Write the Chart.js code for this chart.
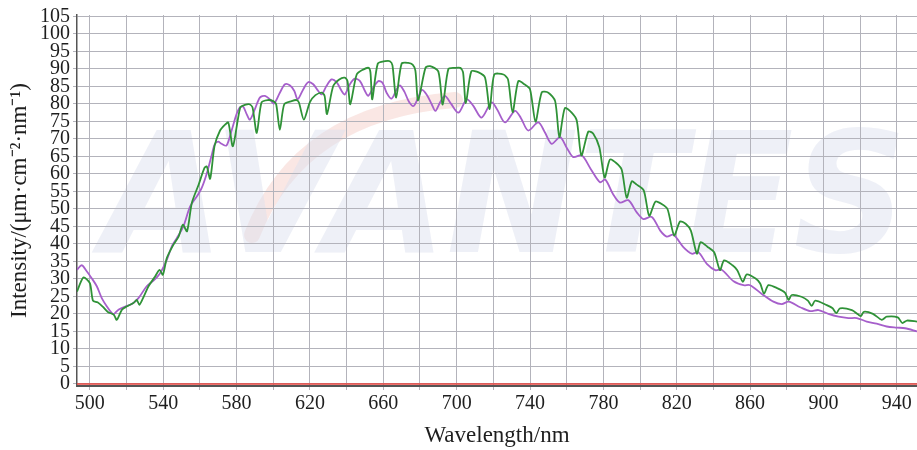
<!DOCTYPE html>
<html>
<head>
<meta charset="utf-8">
<script src="https://cdn.jsdelivr.net/npm/chart.js@4"></script>
<style>
  html, body { margin: 0; padding: 0; background: #fff; }
</style>
</head>
<body>
<canvas id="myChart" width="917" height="450"></canvas>
<script>
// wavelength (nm) / intensity
const greenNm = [493, 496.5, 500, 501.7, 504.2, 507, 510, 513, 514.7, 517.5, 520, 523.8, 525.6, 527, 529, 532, 535.6, 538, 539.8, 542, 545.6, 548.4, 550.7, 553, 555.6, 559.3, 562.5, 563.8, 565.6, 568, 571, 573.6, 575.5, 578, 582, 584.5, 587, 588.7, 591, 593.6, 597, 600, 601.6, 603.6, 606, 610, 612.7, 614, 616.7, 620, 623, 626.5, 628, 629.3, 632.7, 636, 639, 640.5, 642, 645.5, 649, 652, 653, 654, 657, 661, 663.6, 665, 667, 670, 673.6, 676, 677.5, 679, 683, 685.5, 690, 692.4, 695.5, 699, 702, 703.5, 705, 708, 712, 715.5, 718, 720.5, 725.5, 728, 730.5, 733.6, 737, 740, 743, 746.4, 750, 753.7, 756, 759, 762.7, 765.5, 768, 771.8, 774.5, 777.8, 780.7, 783.6, 787, 790, 792.7, 795.5, 798, 802, 805, 808.4, 812, 815, 818.6, 821.8, 825, 827.7, 831, 833, 836.7, 840.4, 843.6, 845.8, 850.4, 853, 856, 858.2, 863, 865.5, 867.6, 870, 875, 879, 881, 882.7, 888, 891.5, 893.6, 895.5, 901.8, 905, 907, 909, 915.5, 919, 920.5, 922, 927, 931.8, 934.5, 940.5, 943, 945.5, 951];
const greenVal = [26.4, 30.4, 28.8, 23.8, 23.3, 22.1, 20.5, 19.8, 18.3, 21.2, 22.1, 23.1, 24.0, 22.6, 24.5, 27.9, 30.7, 32.6, 31.2, 36.0, 39.8, 42.1, 45.5, 43.6, 51.7, 56.9, 61.7, 62.1, 58.6, 68.0, 72.4, 74.0, 74.7, 67.9, 79.0, 79.7, 79.9, 79.0, 71.7, 80.4, 81.1, 80.8, 79.9, 72.6, 79.9, 80.8, 81.1, 80.4, 75.5, 80.5, 82.5, 83.2, 82.3, 77.1, 85.1, 87.0, 87.5, 86.5, 79.9, 88.4, 89.8, 90.3, 89.0, 81.3, 91.5, 92.2, 92.2, 91.0, 81.8, 91.5, 91.7, 91.2, 89.5, 81.0, 90.3, 90.8, 89.3, 79.8, 90.0, 90.3, 90.3, 89.0, 80.2, 89.3, 89.0, 87.5, 78.5, 88.4, 88.4, 87.0, 77.6, 86.5, 85.6, 84.2, 74.9, 83.3, 83.2, 80.8, 70.5, 78.8, 77.5, 75.2, 65.3, 72.1, 71.5, 67.6, 59.0, 64.1, 63.1, 61.2, 53.2, 57.9, 57.0, 55.3, 48.0, 52.1, 51.3, 49.9, 42.4, 46.4, 45.7, 43.8, 37.2, 40.5, 39.2, 37.6, 32.5, 35.3, 33.9, 32.5, 29.2, 31.3, 30.1, 28.7, 25.8, 28.2, 27.3, 26.1, 24.0, 25.4, 24.9, 23.8, 22.3, 23.8, 22.5, 21.6, 20.2, 21.6, 21.1, 19.8, 19.4, 20.6, 20.0, 18.3, 19.2, 19.0, 17.4, 18.1, 17.8];

const purpleNm = [493, 495.6, 498.4, 501, 503.8, 506.5, 509.3, 512, 513, 515.6, 519.3, 522.9, 526.5, 531, 534.7, 538.4, 542, 544.7, 547.5, 551, 554.7, 558.4, 561, 563.8, 566.5, 568.2, 570, 571.8, 574.5, 577.3, 580, 581.8, 583.6, 585.5, 587.3, 590, 592.7, 595.5, 598.2, 600.4, 603.6, 606.4, 609, 611.5, 613.3, 616.4, 619, 621.8, 624.5, 626.4, 629, 631.8, 634.5, 637.3, 639, 641.8, 644.5, 647.3, 650, 651.8, 654.5, 657.3, 659.6, 661.8, 664.5, 667.3, 669, 671.5, 674, 676.5, 679, 681, 683.6, 686.4, 688.4, 691, 693.6, 697, 701, 705.5, 709, 713.6, 719, 722, 726.4, 731.8, 735, 739, 744.5, 748, 751.8, 756.4, 760, 763.6, 768.2, 773, 778.2, 781, 785.3, 789, 793.6, 798.2, 801.8, 806.4, 811, 814.5, 818.2, 823.6, 828.2, 831.8, 836.4, 841, 844.5, 851, 856.4, 860, 866.4, 872.7, 877.3, 881, 887.3, 892.7, 897.3, 902.7, 908.2, 913.6, 918.2, 923.6, 929, 934.5, 940, 944.5, 951];
const purpleVal = [32.6, 33.9, 32.1, 30.2, 27.9, 24.5, 22.1, 20.2, 19.9, 21.2, 22.1, 22.8, 24.5, 27.9, 29.5, 31.7, 35.5, 39.3, 41.7, 45.0, 50.7, 53.6, 56.0, 60.2, 65.5, 68.6, 69.2, 68.6, 68.1, 72.4, 77.1, 79.0, 79.2, 77.1, 75.5, 78.5, 81.8, 82.3, 81.3, 80.1, 83.2, 85.6, 85.3, 83.7, 81.3, 84.2, 86.2, 85.6, 83.7, 82.7, 85.1, 87.0, 86.2, 83.7, 82.7, 85.6, 87.2, 86.5, 83.7, 82.3, 84.6, 86.5, 86.0, 83.2, 81.5, 84.2, 85.3, 83.5, 80.6, 79.4, 81.8, 84.0, 82.7, 79.9, 78.0, 80.5, 82.3, 80.0, 77.5, 81.3, 79.5, 76.1, 80.4, 78.5, 74.7, 78.0, 76.0, 72.4, 74.7, 72.0, 68.6, 70.5, 67.5, 64.8, 65.3, 61.5, 57.6, 58.4, 54.2, 51.8, 52.5, 49.0, 47.1, 47.7, 43.8, 42.1, 42.6, 39.1, 37.2, 37.6, 34.3, 32.5, 32.6, 29.3, 28.2, 28.2, 25.7, 23.5, 22.8, 23.5, 21.9, 20.8, 21.1, 20.0, 19.2, 18.8, 18.8, 17.8, 17.2, 16.4, 16.1, 15.9, 15.0];

const zeroNm = [493, 951];
const zeroVal = [0, 0];

const yTicks = [0, 5, 10, 15, 20, 25, 30, 35, 40, 45, 50, 55, 60, 65, 70, 75, 80, 85, 90, 95, 100, 105];
const xGrid = [500, 520, 540, 560, 580, 600, 620, 640, 660, 680, 700, 720, 740, 760, 780, 800, 820, 840, 860, 880, 900, 920, 940];
const xLabels = [500, 540, 580, 620, 660, 700, 740, 780, 820, 860, 900, 940];

function pairs(xs, ys) {
  return xs.map((x, i) => ({ x: x, y: ys[i] }));
}

const serif = '"Liberation Serif", "Times New Roman", serif';
const gridColor = '#b3b3bb';

// faint AVANTES logo behind the grid
const watermark = {
  id: 'watermark',
  beforeDraw(chart) {
    const c = chart.ctx;
    c.save();
    c.strokeStyle = 'rgba(246, 212, 206, 0.55)';
    c.lineCap = 'round';
    c.lineWidth = 16;
    c.beginPath();
    c.moveTo(252, 235);
    c.quadraticCurveTo(300, 112, 455, 100);
    c.stroke();
    c.font = 'italic bold 168px "DejaVu Sans"';
    const w = c.measureText('AVANTES').width;
    c.translate(102, 252);
    c.scale(805 / w, 1);
    c.fillStyle = 'rgba(222, 226, 240, 0.5)';
    c.fillText('AVANTES', 0, 0);
    c.restore();
  }
};

const ctx = document.getElementById('myChart').getContext('2d');
const myChart = new Chart(ctx, {
  type: 'line',
  data: {
    datasets: [
      { data: pairs(zeroNm, zeroVal), borderColor: '#e8403a', borderWidth: 1.5, pointRadius: 0, order: 0 },
      { data: pairs(greenNm, greenVal), borderColor: '#2f9237', borderWidth: 1.8, pointRadius: 0, tension: 0.25, order: 1 },
      { data: pairs(purpleNm, purpleVal), borderColor: '#a65fcb', borderWidth: 1.8, pointRadius: 0, tension: 0.3, order: 2 }
    ]
  },
  options: {
    responsive: false,
    animation: false,
    devicePixelRatio: 1,
    layout: { padding: { left: 6, right: 0, top: 0, bottom: 0 } },
    plugins: { legend: { display: false }, tooltip: { enabled: false } },
    scales: {
      x: {
        type: 'linear',
        min: 493,
        max: 951,
        afterBuildTicks: s => { s.ticks = xGrid.map(v => ({ value: v })); },
        afterFit: s => { s.height = 64; },
        ticks: {
          autoSkip: false,
          maxRotation: 0,
          padding: 2,
          color: '#1e1e1e',
          font: { family: serif, size: 20 },
          callback: v => xLabels.includes(v) ? String(v) : ''
        },
        grid: { color: gridColor, tickLength: 4 },
        border: { color: '#555', width: 2 },
        title: {
          display: true,
          text: 'Wavelength/nm',
          color: '#1e1e1e',
          font: { family: serif, size: 23 },
          padding: { top: 0, bottom: 0 }
        }
      },
      y: {
        min: -0.6,
        max: 105.4,
        afterBuildTicks: s => { s.ticks = yTicks.map(v => ({ value: v })); },
        afterFit: s => { s.width = 71; },
        ticks: {
          autoSkip: false,
          padding: 3,
          color: '#1e1e1e',
          font: { family: serif, size: 20 }
        },
        grid: { color: gridColor, tickLength: 4 },
        border: { color: '#555', width: 1.5 },
        title: {
          display: true,
          text: 'Intensity/(μm·cm⁻²·nm⁻¹)',
          color: '#1e1e1e',
          font: { family: serif, size: 23 },
          padding: { top: 0, bottom: 0 }
        }
      }
    }
  },
  plugins: [watermark]
});
</script>
</body>
</html>
